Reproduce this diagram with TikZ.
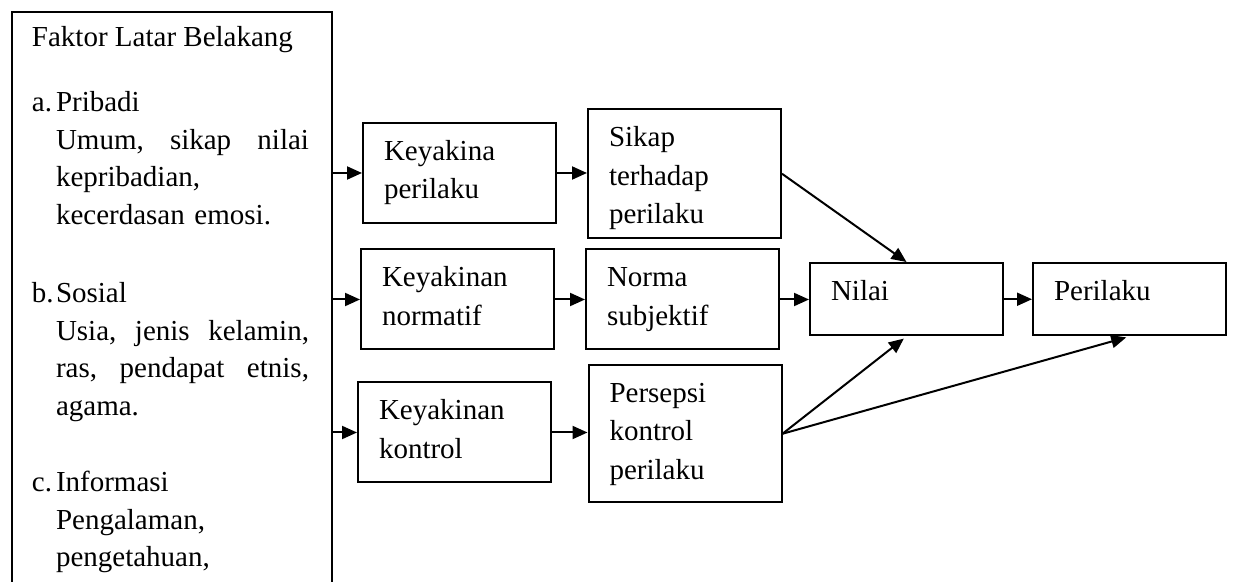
\documentclass[tikz,border=0pt]{standalone}
\usepackage{fontspec}
\setmainfont{Liberation Serif}
\usetikzlibrary{arrows.meta}

\begin{document}
\begin{tikzpicture}[x=0.5pt,y=-0.5pt,line width=1pt,
  panah/.style={-{Triangle[length=7.5pt,width=6.5pt]}},
  kotak/.style={draw,anchor=north west,align=left,text width=75.5pt,
    inner xsep=10.5pt,inner ysep=0pt,text height=18.75pt,
    font=\fontsize{14.5}{19.25}\selectfont},
  teks/.style={anchor=base west,inner sep=0pt,font=\fontsize{14.5}{18.75}\selectfont},
  isi/.style={teks,text width=126.5pt,align=left}]
  \clip (0,0) rectangle (1233,582);

  % Left box, its bottom runs off the page
  \node[draw,anchor=north west,minimum width=160pt,minimum height=330pt] (latar) at (10.5,11.5) {};
  \node[teks] (judul) at (31,47) {Faktor Latar Belakang};
  \node[teks] (hurufa) at (31,112) {a.};
  \node[isi] (pribadi) at (55,112) {Pribadi\\Umum,\hfill sikap\hfill nilai\\kepribadian,\\kecerdasan emosi.};
  \node[teks] (hurufb) at (31,303) {b.};
  \node[isi] (sosial) at (55,303) {Sosial\\Usia,\hfill jenis\hfill kelamin,\\ras,\hfill pendapat\hfill etnis,\\agama.};
  \node[teks] (hurufc) at (31,492) {c.};
  \node[isi] (informasi) at (55,492) {Informasi\\Pengalaman,\\pengetahuan,};

  % Boxes
  \node[kotak,text depth=31.25pt] (kp) at (362,122) {Keyakina\\perilaku};
  \node[kotak,text depth=45.5pt] (sikap) at (587,108.5) {Sikap\\terhadap\\perilaku};
  \node[kotak,text depth=31.25pt] (kn) at (360,248.5) {Keyakinan\\normatif};
  \node[kotak,text depth=31.25pt] (norma) at (585,248.5) {Norma\\subjektif};
  \node[kotak,text depth=31.25pt] (kk) at (357,381.5) {Keyakinan\\kontrol};
  \node[kotak,text depth=50pt] (persepsi) at (587.5,364) {Persepsi\\kontrol\\perilaku};
  \node[kotak,text depth=17.5pt] (nilai) at (809,262) {Nilai};
  \node[kotak,text depth=17.5pt] (perilaku) at (1032,262) {Perilaku};

  % Arrows
  \draw[panah] (kp.west -| latar.east) -- (kp.west);
  \draw[panah] (kn.west -| latar.east) -- (kn.west);
  \draw[panah] (kk.west -| latar.east) -- (kk.west);
  \draw[panah] (kp.east) -- (kp.east -| sikap.west);
  \draw[panah] (kn.east) -- (kn.east -| norma.west);
  \draw[panah] (kk.east) -- (kk.east -| persepsi.west);
  \draw[panah] (norma.east) -- (norma.east -| nilai.west);
  \draw[panah] (nilai.east) -- (perilaku.west);
  \draw[panah] (sikap.east) -- (nilai.north);
  \draw[panah,shorten >=1.7pt] (persepsi.east) -- (nilai.south);
  \draw[panah,shorten >=1.7pt] (persepsi.east) -- (perilaku.south);
\end{tikzpicture}
\end{document}
